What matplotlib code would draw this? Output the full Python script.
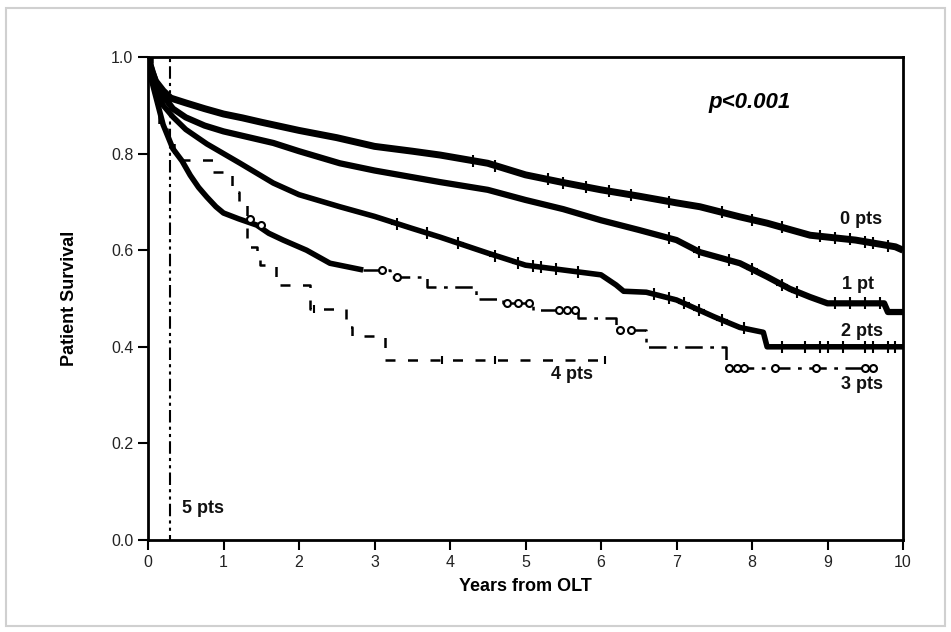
import numpy as np
import matplotlib
matplotlib.use('agg')
import matplotlib.pyplot as plt
from matplotlib.patches import Rectangle

plt.rcParams['font.family'] = ['Liberation Sans', 'DejaVu Sans']

# Kaplan-Meier style survival curves (years, survival)
t0 = [0, 0.05, 0.1, 0.2, 0.3, 0.5, 0.75, 1.0, 1.25, 1.5, 2.0, 2.5, 3.0, 3.5, 3.87,
      4.5, 5.0, 5.5, 6.0, 6.5, 7.0, 7.31, 7.84, 8.2, 8.77, 9.37, 9.9, 10.0]
s0 = [1.0, 0.97, 0.95, 0.93, 0.915, 0.905, 0.893, 0.882, 0.874, 0.865, 0.848, 0.833, 0.815, 0.805, 0.797,
      0.78, 0.756, 0.74, 0.725, 0.712, 0.698, 0.69, 0.669, 0.656, 0.631, 0.621, 0.607, 0.60]

t1 = [0, 0.1, 0.2, 0.33, 0.5, 0.75, 1.0, 1.22, 1.66, 2.0, 2.54, 3.0, 3.87, 4.5, 5.0,
      5.5, 6.0, 6.5, 7.0, 7.31, 7.84, 8.2, 8.5, 8.77, 9.0, 9.75, 9.8, 10.0]
s1 = [1.0, 0.95, 0.92, 0.893, 0.875, 0.858, 0.846, 0.838, 0.822, 0.805, 0.78, 0.765, 0.741, 0.725, 0.704,
      0.685, 0.662, 0.642, 0.621, 0.596, 0.573, 0.545, 0.52, 0.503, 0.49, 0.49, 0.472, 0.472]

t2 = [0, 0.1, 0.2, 0.33, 0.5, 0.78, 1.0, 1.22, 1.66, 2.0, 2.54, 3.0, 3.5, 3.87, 4.5,
      5.0, 5.5, 6.0, 6.2, 6.3, 6.6, 7.0, 7.5, 7.84, 8.15, 8.2, 10.0]
s2 = [1.0, 0.94, 0.9, 0.876, 0.85, 0.82, 0.80, 0.78, 0.739, 0.715, 0.69, 0.67, 0.645, 0.627, 0.594,
      0.569, 0.559, 0.549, 0.528, 0.515, 0.513, 0.497, 0.462, 0.44, 0.43, 0.40, 0.40]

t3 = [0, 0.05, 0.1, 0.2, 0.33, 0.45, 0.56, 0.67, 0.78, 0.9, 1.0, 1.2, 1.44, 1.6, 1.79,
      2.1, 2.41, 2.85, 3.2, 3.7, 4.35, 4.7, 5.1, 5.7, 6.2, 6.6, 7.65, 9.6]
s3 = [1.0, 0.95, 0.92, 0.86, 0.81, 0.785, 0.755, 0.73, 0.71, 0.69, 0.677, 0.665, 0.652, 0.635, 0.621,
      0.60, 0.573, 0.559, 0.545, 0.524, 0.50, 0.49, 0.476, 0.46, 0.435, 0.40, 0.356, 0.356]

t4 = [0, 0.05, 0.1, 0.15, 0.25, 0.35, 0.86, 1.11, 1.2, 1.31, 1.44, 1.48, 1.69, 2.15,
      2.62, 2.7, 3.14, 6.08]
s4 = [1.0, 0.95, 0.9, 0.86, 0.83, 0.787, 0.762, 0.72, 0.694, 0.607, 0.594, 0.569, 0.528, 0.478,
      0.44, 0.422, 0.373, 0.373]

t5 = [0, 0.29]
s5 = [1.0, 0.0]

# censored observations
c0 = [4.3, 4.6, 5.3, 5.5, 5.8, 6.1, 6.4, 6.9, 7.6, 8.0, 8.4, 8.9, 9.1, 9.3, 9.5, 9.6, 9.8]
c1 = [6.9, 7.3, 7.7, 8.0, 8.4, 8.6, 9.1, 9.3, 9.5, 9.7]
c2 = [3.3, 3.7, 4.1, 4.6, 4.9, 5.1, 5.2, 5.4, 5.7, 6.7, 6.9, 7.1, 7.3, 7.6, 7.9,
      8.4, 8.7, 8.9, 9.0, 9.2, 9.5, 9.6, 9.8, 9.9]
c3 = [1.35, 1.5, 3.1, 3.3, 4.75, 4.9, 5.05, 5.45, 5.55, 5.65, 6.25, 6.4,
      7.7, 7.8, 7.9, 8.3, 8.85, 9.5, 9.6]
c4 = [2.2, 3.9, 4.6, 6.05]

labels = ['0 pts', '1 pt', '2 pts', '3 pts', '4 pts', '5 pts']
label_pos = [(9.45, 0.663), (9.40, 0.528), (9.46, 0.431), (9.46, 0.321), (5.62, 0.342), (0.45, 0.066)]


def at(t, s, c, step):
    t = np.asarray(t); s = np.asarray(s); c = np.asarray(c)
    if step:
        i = np.searchsorted(t, c, side='right') - 1
        return s[i]
    return np.interp(c, t, s)


fig = plt.figure(figsize=(9.51, 6.32), dpi=100)
fig.patches.append(Rectangle((6/951, 6/632), 939/951, 618/632, transform=fig.transFigure,
                             fill=False, edgecolor='#d0d0d0', lw=1.5))
ax = fig.add_axes([148/951, 1-540/632, 755/951, 483/632])

ax.plot(t0, s0, color='black', lw=5, solid_capstyle='butt')
ax.plot(c0, at(t0, s0, c0, False), '+', color='black', ms=9, mew=1.5)

ax.plot(t1, s1, color='black', lw=4.5, solid_capstyle='butt')
ax.plot(c1, at(t1, s1, c1, False), '+', color='black', ms=8, mew=1.5)

ax.plot(t2, s2, color='black', lw=4, solid_capstyle='butt')
ax.plot(c2, at(t2, s2, c2, False), '+', color='black', ms=9, mew=1.5)

# 3 pts: dense early part looks like a solid thick band, later part dash-dot steps
t3a = np.asarray(t3); s3a = np.asarray(s3)
early = t3a <= 2.85
ax.plot(t3a[early], s3a[early], color='black', lw=4, solid_capstyle='butt')
late = t3a >= 2.85
ax.step(t3a[late], s3a[late], where='post', color='black',
        lw=1.8, linestyle=(0, (7, 3, 1.5, 3)))
ax.plot(c3, at(t3, s3, c3, True), 'o', mfc='white', mec='black', ms=5, mew=1.5)

ax.step(t4, s4, where='post', color='black', lw=1.8, linestyle=(0, (4, 5)))
ax.plot(c4, at(t4, s4, c4, True), '|', color='black', ms=6, mew=1.5)

ax.step(t5, s5, where='post', color='black', lw=1.5, linestyle=(0, (6, 2, 1.5, 2, 1.5, 2)))

for lab, (x, y) in zip(labels, label_pos):
    ax.text(x, y, lab, fontsize=13, fontweight='bold', ha='left' if lab == '5 pts' else 'center',
            va='center', color='#111111')

ax.text(7.97, 0.905, 'p<0.001', fontsize=16, fontweight='bold', fontstyle='italic',
        ha='center', va='center')

ax.set_xlim(0, 10)
ax.set_ylim(0, 1)
ax.set_xticks(range(0, 11))
ax.set_yticks([0, 0.2, 0.4, 0.6, 0.8, 1.0])
ax.set_yticklabels(['0.0', '0.2', '0.4', '0.6', '0.8', '1.0'])
ax.tick_params(direction='out', length=7, width=1.5, labelsize=11.5, labelcolor='#222222')
for sp in ax.spines.values():
    sp.set_linewidth(2)
ax.set_xlabel('Years from OLT', fontsize=13, fontweight='bold', labelpad=6)
ax.set_ylabel('Patient Survival', fontsize=13, fontweight='bold', labelpad=24)

plt.savefig('out.png', dpi=100)
